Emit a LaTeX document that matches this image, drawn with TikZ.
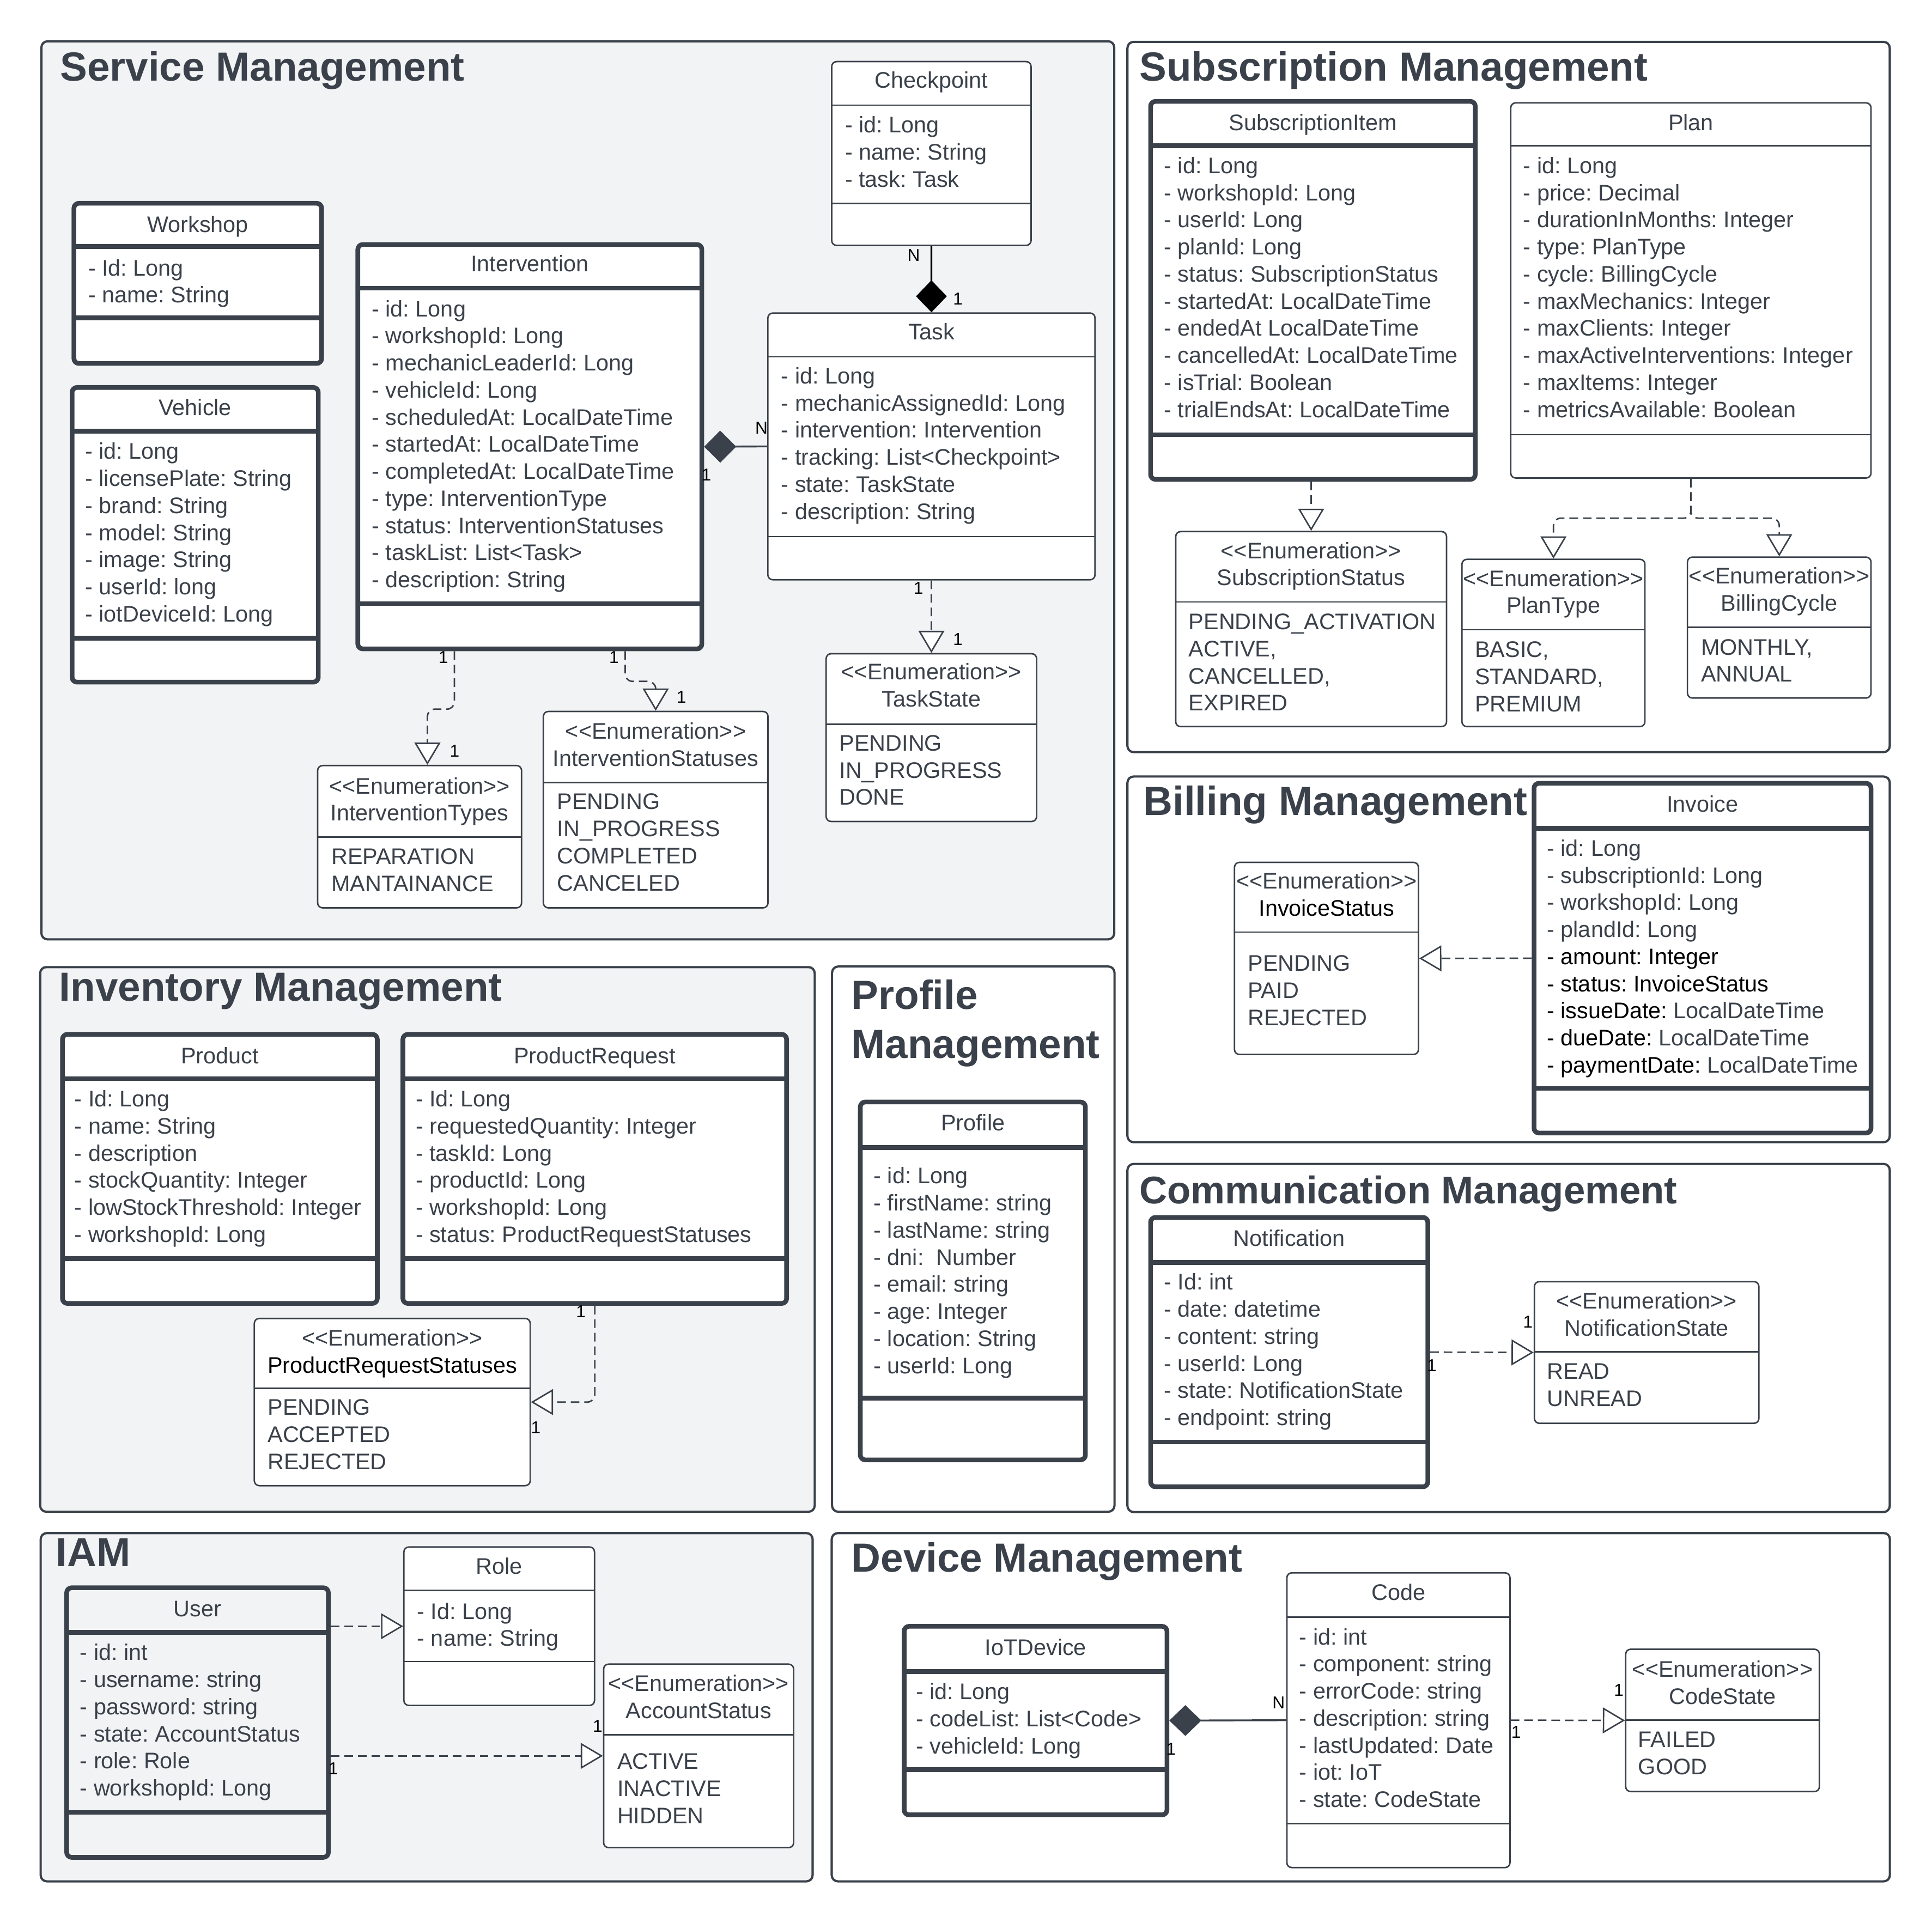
\documentclass[tikz,border=0pt]{standalone}
\usepackage{fontspec}
\setmainfont{Liberation Sans}
\usetikzlibrary{arrows.meta,fit,calc}
\definecolor{ink}{RGB}{58,65,74}
\definecolor{panel}{RGB}{242,243,245}
\frenchspacing
\newcommand\enumtag{<\kern0pt<Enumeration>\kern0pt>}
\tikzset{
  cont/.style={draw=ink, line width=1.8pt, rounded corners=5pt, inner sep=0pt},
  gcont/.style={cont, fill=panel},
  wcont/.style={cont, fill=white},
  ttl/.style={font=\fontsize{33}{39.8}\selectfont\bfseries, text=ink, inner sep=0pt, anchor=base west},
  classthick/.style={draw=ink, line width=3.8pt, rounded corners=4pt, fill=white, inner sep=0pt},
  classthickgray/.style={classthick, fill=panel},
  classthin/.style={draw=ink, line width=1.2pt, rounded corners=4pt, fill=white, inner sep=0pt},
  classthicksep/.style={draw=ink, line width=3.8pt},
  classthickgraysep/.style={draw=ink, line width=3.8pt},
  classthinsep/.style={draw=ink, line width=1.2pt},
  cname/.style={font=\fontsize{18.3}{22}\selectfont, text=ink, inner sep=0pt, anchor=base},
  attrs/.style={font=\fontsize{18.3}{22}\selectfont, text=ink, inner sep=0pt, anchor=north west, align=left},
  ehead/.style={font=\fontsize{18.3}{22}\selectfont, text=ink, inner sep=0pt, anchor=north, align=center},
  mult/.style={font=\fontsize{14}{16}\selectfont, text=black, inner sep=0pt},
  dep/.style={draw=ink, line width=1.2pt, dash pattern=on 7pt off 4pt, rounded corners=6pt,
    -{Triangle[length=18pt,width=21pt,fill=white]}},
  compline/.style={draw=ink, line width=1.5pt},
}
% style, name, x1, y1, x2, y2, sep1, sep2 (-1 = none)
\newcommand\classbox[8]{%
  \node[#1, fit={(#3,#4) (#5,#6)}] (#2) {};
  \draw[#1sep] (#3,#7) -- (#5,#7);
  \ifdim #8pt>0pt\relax \draw[#1sep] (#3,#8) -- (#5,#8);\fi}
% style, name, x, baseline, text
\newcommand\txt[5]{\node[#1] (#2) at (#3,#4-17) {\rule{0pt}{17pt}#5};}
\begin{document}
\begin{tikzpicture}[x=1pt,y=-1pt]
\fill[white] (0,0) rectangle (1568,1560.6);
\useasboundingbox (0,0) rectangle (1568,1560.6);

% ---------- containers ----------
\node[gcont, fit={(33.6,33.5) (904.3,762.5)}] (svc) {};
\node[wcont, fit={(915,34) (1533.7,610.5)}] (sub) {};
\node[wcont, fit={(915,630.3) (1533.7,927.1)}] (bil) {};
\node[wcont, fit={(915,944.8) (1533.7,1227.3)}] (com) {};
\node[gcont, fit={(32.6,785) (661.2,1227.1)}] (inv) {};
\node[wcont, fit={(675.3,784.5) (904.5,1227.1)}] (prof) {};
\node[gcont, fit={(33,1244.4) (659.5,1527.1)}] (iam) {};
\node[wcont, fit={(675,1244.4) (1533.8,1527.1)}] (dev) {};

\node[ttl] (svc-t) at (48.6,65.5) {Service Management};
\node[ttl] (sub-t) at (924.6,65.5) {Subscription Management};
\node[ttl] (bil-t) at (927.7,661.9) {Billing Management};
\node[ttl, font=\fontsize{31.3}{38}\selectfont\bfseries] (com-t) at (924.6,977) {Communication Management};
\node[ttl] (inv-t) at (47.9,812.6) {Inventory Management};
\node[ttl, anchor=north west, align=left] (prof-t) at (690.8,789) {\rule{0pt}{30pt}Profile\\Management};
\node[ttl] (iam-t) at (45.2,1271.7) {IAM};
\node[ttl] (dev-t) at (690.8,1276) {Device Management};

% ---------- Service Management ----------
\classbox{classthick}{workshop}{60}{165}{261}{295}{200}{258}
\node[cname] (workshop-n) at (160.5,188.5) {Workshop};
\txt{attrs}{workshop-a}{71.5}{223.6}{- Id: Long\\- name: String}

\classbox{classthick}{vehicle}{58.5}{314.5}{258.3}{553.7}{350}{518}
\node[cname] (vehicle-n) at (158.4,337) {Vehicle};
\txt{attrs}{vehicle-a}{69}{372.5}{- id: Long\\- licensePlate: String\\- brand: String\\- model: String\\- image: String\\- userId: long\\- iotDeviceId: Long}

\classbox{classthick}{inter}{290.4}{198.5}{569.6}{526.7}{234}{490}
\node[cname] (inter-n) at (430,220.5) {Intervention};
\txt{attrs}{inter-a}{301.6}{256.8}{- id: Long\\- workshopId: Long\\- mechanicLeaderId: Long\\- vehicleId: Long\\- scheduledAt: LocalDateTime\\- startedAt: LocalDateTime\\- completedAt: LocalDateTime\\- type: InterventionType\\- status: InterventionStatuses\\- taskList: List<Task>\\- description: String}

\classbox{classthin}{cp}{675}{50}{836.8}{199.2}{85.4}{165}
\node[cname] (cp-n) at (755.9,71.5) {Checkpoint};
\txt{attrs}{cp-a}{685.7}{107.5}{- id: Long\\- name: String\\- task: Task}

\classbox{classthin}{task}{623.2}{254.1}{888.7}{470.6}{289.6}{435.6}
\node[cname] (task-n) at (756,275.7) {Task};
\txt{attrs}{task-a}{633.8}{311.3}{- id: Long\\- mechanicAssignedId: Long\\- intervention: Intervention\\- tracking: List<Checkpoint>\\- state: TaskState\\- description: String}

\classbox{classthin}{taskstate}{670.5}{530.6}{841.3}{666.8}{588}{-1}
\txt{ehead}{taskstate-n}{755.9}{551.5}{\enumtag\\TaskState}
\txt{attrs}{taskstate-v}{681}{609.3}{PENDING\\IN\_PROGRESS\\DONE}

\classbox{classthin}{itypes}{257.8}{621.4}{423.3}{736.9}{679.3}{-1}
\txt{ehead}{itypes-n}{340.5}{644.1}{\enumtag\\InterventionTypes}
\txt{attrs}{itypes-v}{268.7}{701.3}{REPARATION\\MANTAINANCE}

\classbox{classthin}{istat}{441}{577.5}{623.3}{736.9}{635.1}{-1}
\txt{ehead}{istat-n}{532.2}{599.6}{\enumtag\\InterventionStatuses}
\txt{attrs}{istat-v}{452}{656.8}{PENDING\\IN\_PROGRESS\\COMPLETED\\CANCELED}

% ---------- Subscription Management ----------
\classbox{classthick}{si}{933.8}{82.3}{1197.3}{389.1}{118.3}{352.8}
\node[cname] (si-n) at (1065.5,105.7) {SubscriptionItem};
\txt{attrs}{si-a}{944.6}{140.6}{- id: Long\\- workshopId: Long\\- userId: Long\\- planId: Long\\- status: SubscriptionStatus\\- startedAt: LocalDateTime\\- endedAt LocalDateTime\\- cancelledAt: LocalDateTime\\- isTrial: Boolean\\- trialEndsAt: LocalDateTime}

\classbox{classthin}{plan}{1226.1}{83.5}{1518.5}{388}{118.3}{352.8}
\node[cname] (plan-n) at (1372.3,105.7) {Plan};
\txt{attrs}{plan-a}{1236.1}{140.6}{- id: Long\\- price: Decimal\\- durationInMonths: Integer\\- type: PlanType\\- cycle: BillingCycle\\- maxMechanics: Integer\\- maxClients: Integer\\- maxActiveInterventions: Integer\\- maxItems: Integer\\- metricsAvailable: Boolean}

\classbox{classthin}{ss}{954.2}{431.5}{1174}{589.8}{488.6}{-1}
\txt{ehead}{ss-n}{1064.1}{453.1}{\enumtag\\SubscriptionStatus}
\txt{attrs}{ss-v}{964.6}{510.8}{PENDING\_ACTIVATION\\ACTIVE,\\CANCELLED,\\EXPIRED}

\classbox{classthin}{pt}{1186.5}{454}{1335}{589.8}{511.1}{-1}
\txt{ehead}{pt-n}{1260.8}{475.6}{\enumtag\\PlanType}
\txt{attrs}{pt-v}{1196.9}{533.3}{BASIC,\\STANDARD,\\PREMIUM}

\classbox{classthin}{bc}{1369.5}{452.2}{1518.5}{566.6}{509.2}{-1}
\txt{ehead}{bc-n}{1444}{473.7}{\enumtag\\BillingCycle}
\txt{attrs}{bc-v}{1380.3}{531.4}{MONTHLY,\\ANNUAL}

% ---------- Billing Management ----------
\classbox{classthick}{invoice}{1245}{635.8}{1518.5}{919.7}{672.3}{883.5}
\node[cname] (invoice-n) at (1381.8,659.1) {Invoice};
\txt{attrs}{invoice-a}{1255.4}{694.6}{- id: Long\\- subscriptionId: Long\\- workshopId: Long\\- plandId: Long\\{\color{black}- amount: Integer}\\{\color{black}- status: InvoiceStatus}\\{\color{black}- issueDate:} LocalDateTime\\{\color{black}- dueDate:} LocalDateTime\\{\color{black}- paymentDate:} LocalDateTime}

\classbox{classthin}{invst}{1001.9}{700}{1151.2}{855.9}{756.6}{-1}
\txt{ehead}{invst-n}{1076.6}{721.3}{\enumtag\\{\color{black}InvoiceStatus}}
\txt{attrs}{invst-v}{1012.6}{788}{PENDING\\PAID\\REJECTED}

% ---------- Communication Management ----------
\classbox{classthick}{notif}{933.8}{988.2}{1158.8}{1206.8}{1024.8}{1170.5}
\node[cname] (notif-n) at (1046.3,1011.4) {Notification};
\txt{attrs}{notif-a}{944.6}{1046.8}{- Id: int\\- date: datetime\\- content: string\\- userId: Long\\- state: NotificationState\\- endpoint: string}

\classbox{classthin}{nst}{1245.3}{1040.3}{1427.5}{1155.3}{1097.4}{-1}
\txt{ehead}{nst-n}{1336.4}{1062.2}{\enumtag\\NotificationState}
\txt{attrs}{nst-v}{1255.4}{1119.4}{READ\\UNREAD}

% ---------- Inventory Management ----------
\classbox{classthick}{product}{50.7}{839.6}{306.2}{1058}{875.6}{1021.7}
\node[cname] (product-n) at (178.5,863.2) {Product};
\txt{attrs}{product-a}{60.3}{898.1}{- Id: Long\\- name: String\\- description\\- stockQuantity: Integer\\- lowStockThreshold: Integer\\- workshopId: Long}

\classbox{classthick}{preq}{327}{839.6}{638.4}{1058}{875.6}{1021.7}
\node[cname] (preq-n) at (482.7,863.2) {ProductRequest};
\txt{attrs}{preq-a}{337.2}{898.1}{- Id: Long\\- requestedQuantity: Integer\\- taskId: Long\\- productId: Long\\- workshopId: Long\\- status: ProductRequestStatuses}

\classbox{classthin}{prs}{206.4}{1070.2}{430.3}{1205.9}{1126.9}{-1}
\txt{ehead}{prs-n}{318.4}{1092.2}{\enumtag\\{\color{black}ProductRequestStatuses}}
\txt{attrs}{prs-v}{217.1}{1148.5}{PENDING\\ACCEPTED\\REJECTED}

% ---------- Profile Management ----------
\classbox{classthick}{profile}{698.2}{894.5}{880.9}{1185}{931.4}{1134.8}
\node[cname] (profile-n) at (789.6,917.6) {Profile};
\txt{attrs}{profile-a}{708.9}{960.6}{- id: Long\\- firstName: string\\- lastName: string\\- dni: \ Number\\- email: string\\- age: Integer\\- location: String\\- userId: Long}

% ---------- IAM ----------
\classbox{classthickgray}{user}{54.1}{1288.8}{266.5}{1507.6}{1325.1}{1471.2}
\node[cname] (user-n) at (160.3,1312.1) {User};
\txt{attrs}{user-a}{64.7}{1347.5}{- id: int\\- username: string\\- password: string\\- state: AccountStatus\\- role: Role\\- workshopId: Long}

\classbox{classthin}{role}{327.8}{1255.7}{482.5}{1384.3}{1291.1}{1348.6}
\node[cname] (role-n) at (405.2,1277.7) {Role};
\txt{attrs}{role-a}{338.4}{1314}{- Id: Long\\- name: String}

\classbox{classthin}{acc}{489.9}{1350.8}{644.1}{1499.7}{1408.1}{-1}
\txt{ehead}{acc-n}{567}{1372.6}{\enumtag\\AccountStatus}
\txt{attrs}{acc-v}{500.8}{1435.9}{ACTIVE\\INACTIVE\\HIDDEN}

% ---------- Device Management ----------
\classbox{classthick}{iot}{733.8}{1320.1}{947.1}{1473.1}{1356.8}{1436.3}
\node[cname] (iot-n) at (840.5,1343.7) {IoTDevice};
\txt{attrs}{iot-a}{743.2}{1379.3}{- id: Long\\- codeList: List<Code>\\- vehicleId: Long}

\classbox{classthin}{code}{1044.4}{1276.7}{1225.5}{1515.9}{1312.5}{1480.2}
\node[cname] (code-n) at (1135,1299.1) {Code};
\txt{attrs}{code-a}{1054.3}{1334.8}{- id: int\\- component: string\\- errorCode: string\\- description: string\\- lastUpdated: Date\\- iot: IoT\\- state: CodeState}

\classbox{classthin}{cst}{1319.4}{1338.7}{1476.6}{1454.2}{1396.2}{-1}
\txt{ehead}{cst-n}{1398}{1361}{\enumtag\\CodeState}
\txt{attrs}{cst-v}{1329.4}{1418.2}{FAILED\\GOOD}

% ---------- connectors ----------
\draw[compline, draw=black, -{Diamond[length=26pt,width=25pt,fill=black]}] (cp.south) -- (task.north);
\draw[compline, {Diamond[length=26pt,width=26pt,fill=ink]}-] (inter.east) -- (task.west);
\draw[dep] (task.south) -- (taskstate.north);
\draw[dep] ($(inter.south west)+(80.3,0)$) -- ++(0,47) -| ($(itypes.north west)+(89.7,0)$);
\draw[dep] ($(inter.south west)+(218.9,0)$) -- ++(0,24.5) -| (istat.north);
\draw[dep] (ss.north |- si.south) -- (ss.north);
\draw[dep] (plan.south) -- ++(0,32) -| (pt.north);
\draw[dep] (plan.south) -- ++(0,32) -| (bc.north);
\draw[dep] (invoice.west) -- (invst.east);
\draw[dep] (notif.east) -- (nst.west);
\draw[dep] (preq.south) |- (prs.east);
\draw[dep] (user.east |- role.west) -- (role.west);
\draw[dep] (user.east |- acc.west) -- (acc.west);
\draw[compline, {Diamond[length=26pt,width=25pt,fill=ink]}-] (iot.east) -- (code.west);
\draw[dep] (code.east) -- (cst.west);

% ---------- multiplicities ----------
\node[mult] (m1) at (741.6,207.2) {N};
\node[mult] (m2) at (777.4,242.8) {1};
\node[mult] (m3) at (618,347.4) {N};
\node[mult] (m4) at (573.3,385.3) {1};
\node[mult] (m5) at (745.4,477.6) {1};
\node[mult] (m6) at (777.4,519) {1};
\node[mult] (m7) at (359.8,533.7) {1};
\node[mult] (m8) at (369,609.8) {1};
\node[mult] (m9) at (498.3,533.7) {1};
\node[mult] (m10) at (553,566) {1};
\node[mult] (m11) at (471.5,1064.4) {1};
\node[mult] (m12) at (434.8,1158.8) {1};
\node[mult] (m13) at (1240.1,1072.8) {1};
\node[mult] (m14) at (1162,1108.2) {1};
\node[mult] (m15) at (485,1401.1) {1};
\node[mult] (m16) at (270.5,1435.4) {1};
\node[mult] (m17) at (1037.7,1382.3) {N};
\node[mult] (m18) at (950.4,1419.7) {1};
\node[mult] (m19) at (1313.8,1371.7) {1};
\node[mult] (m20) at (1230.4,1406.1) {1};
\end{tikzpicture}
\end{document}
